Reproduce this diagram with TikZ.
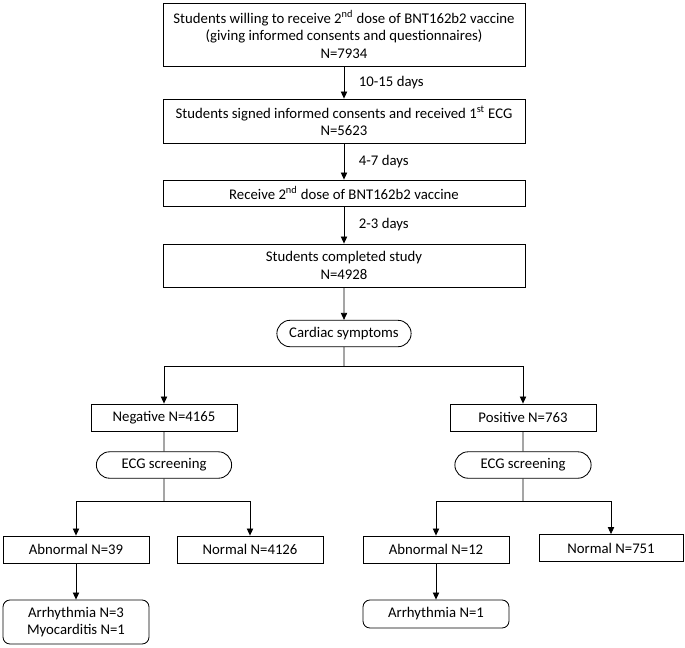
\documentclass[tikz,border=0pt]{standalone}
\usepackage{fontspec}
\setmainfont{Carlito}
\usetikzlibrary{arrows.meta,shapes.misc}

\begin{document}
\begin{tikzpicture}[x=0.025cm,y=-0.025cm,
  box/.style={draw,line width=0.6pt,align=center,inner sep=1pt,minimum width=3.65cm,minimum height=0.675cm},
  pill/.style={draw,line width=0.6pt,rounded rectangle,inner sep=1pt,minimum height=0.66cm},
  endbox/.style={box,rounded corners=5pt},
  arr/.style={-{Triangle[length=5pt,width=4.5pt]},line width=0.6pt},
  lnk/.style={line width=0.6pt},
  font=\fontsize{10.5pt}{12.4pt}\selectfont]
\useasboundingbox (0,0) rectangle (685,647);
\node[box,minimum width=9.05cm,minimum height=1.575cm] (s1) at (344,34.5)
  {Students willing to receive 2\textsuperscript{nd} dose of BNT162b2 vaccine\\(giving informed consents and questionnaires)\\N=7934};
\node[box,minimum width=9.05cm,minimum height=1.1cm] (s2) at (344,121)
  {Students signed informed consents and received 1\textsuperscript{st} ECG\\N=5623};
\node[box,minimum width=9.05cm,minimum height=0.65cm] (s3) at (344,193)
  {Receive 2\textsuperscript{nd} dose of BNT162b2 vaccine};
\node[box,minimum width=9.05cm,minimum height=1.075cm] (s4) at (344,265.5)
  {Students completed study\\N=4928};
\node[pill,minimum width=3.425cm] (card) at (344,333.5) {Cardiac symptoms};
\node[box] (neg) at (164,417.5) {Negative N=4165};
\node[box] (pos) at (523,417.5) {Positive N=763};
\node[pill,minimum width=3.45cm] (ecgn) at (164,465) {ECG screening};
\node[pill,minimum width=3.475cm] (ecgp) at (523,465) {ECG screening};
\node[box] (abnn) at (76,549.5) {Abnormal N=39};
\node[box] (norn) at (250,549.5) {Normal N=4126};
\node[box] (abnp) at (436,549.5) {Abnormal N=12};
\node[box,minimum width=3.6cm] (norp) at (611,548) {Normal N=751};
\node[endbox,minimum height=1.1cm] (arrn) at (76,622) {Arrhythmia N=3\\Myocarditis N=1};
\node[endbox,minimum height=0.7cm] (arrp) at (436,614) {Arrhythmia N=1};
\coordinate (b0) at (344,366);
\coordinate (bn) at (164,501);
\coordinate (bp) at (523,501);

\draw[arr] (s1) -- node[right=7pt] {10-15 days} (s2);
\draw[arr] (s2) -- node[right=7pt] {4-7 days} (s3);
\draw[arr] (s3) -- node[right=7pt] {2-3 days} (s4);
\draw[arr] (s4) -- (card);
\draw[lnk] (card) -- (b0);
\draw[arr] (b0) -| (neg.north);
\draw[arr] (b0) -| (pos.north);
\draw[lnk] (neg) -- (ecgn);
\draw[lnk] (pos) -- (ecgp);
\draw[lnk] (ecgn) -- (bn);
\draw[lnk] (ecgp) -- (bp);
\draw[arr] (bn) -| (abnn.north);
\draw[arr] (bn) -| (norn.north);
\draw[arr] (bp) -| (abnp.north);
\draw[arr] (bp) -| (norp.north);
\draw[arr] (abnn) -- (arrn);
\draw[arr] (abnp) -- (arrp);
\end{tikzpicture}
\end{document}
